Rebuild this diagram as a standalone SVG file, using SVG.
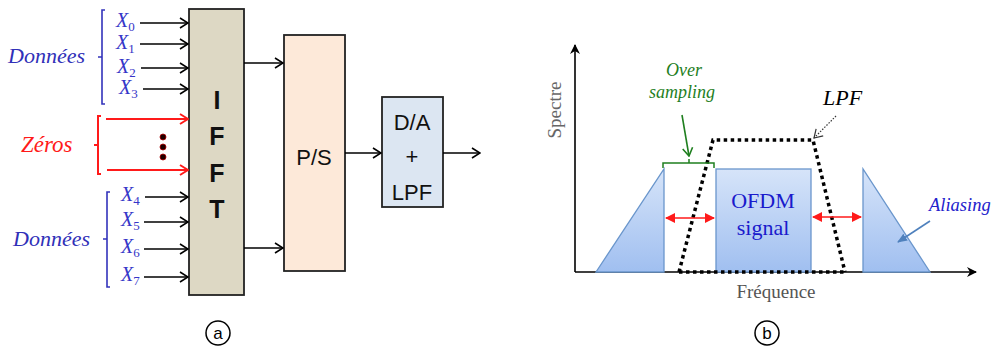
<svg xmlns="http://www.w3.org/2000/svg" width="995" height="349" viewBox="0 0 995 349">
<defs>
<style>
.blk{stroke:#000;stroke-width:1.6;fill:none}
.red{stroke:#ff1a1a;stroke-width:2;fill:none}
.brB{stroke:#3333bb;stroke-width:1.6;fill:none}
.box{stroke:#222;stroke-width:1.8}
.xl{font-family:"Liberation Serif","DejaVu Serif",serif;font-style:italic;font-size:20px;fill:#3535c8}
.xs{font-size:13px;font-style:normal}
.don{font-family:"Liberation Serif","DejaVu Serif",serif;font-style:italic;font-size:22px;fill:#3030b8}
.sans{font-family:"Liberation Sans","Arial",sans-serif;font-size:22px;fill:#111;text-anchor:middle}
.big{font-family:"Liberation Sans","Arial",sans-serif;font-weight:bold;font-size:25px;fill:#111;text-anchor:middle}
.serif{font-family:"Liberation Serif","DejaVu Serif",serif}
.dot{stroke:#000;stroke-width:3.5;stroke-dasharray:3.5 3.5;fill:none}
.shape{stroke:#6a96cc;stroke-width:1.3;fill:url(#gb)}
</style>
<linearGradient id="gb" x1="0" y1="0" x2="0" y2="1">
<stop offset="0" stop-color="#d6e4f9"/>
<stop offset="1" stop-color="#a0bff0"/>
</linearGradient>
<marker id="ak" viewBox="0 0 10 12" refX="9" refY="6" markerWidth="10" markerHeight="12" markerUnits="userSpaceOnUse" orient="auto">
<path d="M1,1 L9,6 L1,11" fill="none" stroke="#000" stroke-width="1.6"/>
</marker>
<marker id="ar" viewBox="0 0 10 12" refX="9" refY="6" markerWidth="10" markerHeight="12" markerUnits="userSpaceOnUse" orient="auto">
<path d="M1,1 L9,6 L1,11" fill="none" stroke="#ff1a1a" stroke-width="2"/>
</marker>
<marker id="ard" viewBox="0 0 10 10" refX="9" refY="5" markerWidth="10" markerHeight="10" markerUnits="userSpaceOnUse" orient="auto-start-reverse">
<path d="M0,0 L10,5 L0,10 Z" fill="#ff1a1a"/>
</marker>
<marker id="ag" viewBox="0 0 10 12" refX="9" refY="6" markerWidth="10" markerHeight="12" markerUnits="userSpaceOnUse" orient="auto">
<path d="M1,1 L9,6 L1,11" fill="none" stroke="#1f7f1f" stroke-width="1.6"/>
</marker>
<marker id="aax" viewBox="0 0 10 10" refX="9" refY="5" markerWidth="10" markerHeight="10" markerUnits="userSpaceOnUse" orient="auto">
<path d="M0,0 L10,5 L0,10 L3,5 Z" fill="#000"/>
</marker>
<marker id="abl" viewBox="0 0 10 10" refX="9" refY="5" markerWidth="10" markerHeight="10" markerUnits="userSpaceOnUse" orient="auto">
<path d="M0,1 L10,5 L0,9 Z" fill="#4f81bd"/>
</marker>
<marker id="alp" viewBox="0 0 10 12" refX="9" refY="6" markerWidth="10" markerHeight="12" markerUnits="userSpaceOnUse" orient="auto">
<path d="M1,1 L9,6 L1,11" fill="none" stroke="#333" stroke-width="1.2"/>
</marker>
</defs>
<rect width="995" height="349" fill="#fff"/>

<!-- Part a -->
<g id="donnees-top">
<path class="brB" d="M105,10 H102 V104 H105 M102,57 H98"/>
<text class="don" x="8" y="63">Données</text>
</g>
<g id="x-labels">
<text class="xl" x="116" y="27">X<tspan class="xs" dy="4">0</tspan></text>
<text class="xl" x="116" y="49">X<tspan class="xs" dy="4">1</tspan></text>
<text class="xl" x="117" y="73">X<tspan class="xs" dy="4">2</tspan></text>
<text class="xl" x="119" y="94">X<tspan class="xs" dy="4">3</tspan></text>
<text class="xl" x="121" y="201">X<tspan class="xs" dy="4">4</tspan></text>
<text class="xl" x="121" y="226">X<tspan class="xs" dy="4">5</tspan></text>
<text class="xl" x="121" y="253">X<tspan class="xs" dy="4">6</tspan></text>
<text class="xl" x="121" y="281">X<tspan class="xs" dy="4">7</tspan></text>
</g>
<g id="zeros">
<path class="red" d="M101,116 H98 V174 H101 M98,145 H94"/>
<text x="21" y="152" font-family="Liberation Serif,serif" font-style="italic" font-size="23" fill="#ff1a1a">Zéros</text>
<g fill="#200000" stroke="#b00000" stroke-width="0.8">
<circle cx="163" cy="137" r="3"/>
<circle cx="163" cy="147" r="3"/>
<circle cx="163" cy="157" r="3"/>
</g>
</g>
<g id="donnees-bottom">
<path class="brB" d="M110,192 H107 V287 H110 M107,239 H103"/>
<text class="don" x="13" y="246">Données</text>
</g>
<g id="ifft">
<rect class="box" x="189" y="9" width="55" height="286" fill="#ddd8c4"/>
<text class="big" x="217" y="109">I</text>
<text class="big" x="217" y="145">F</text>
<text class="big" x="217" y="182">F</text>
<text class="big" x="217" y="218">T</text>
</g>
<g id="ps">
<rect class="box" x="284" y="35" width="61" height="236" fill="#fde9d9"/>
<text class="sans" x="314" y="165">P/S</text>
</g>
<g id="da">
<rect class="box" x="382" y="97" width="61" height="110" fill="#dce6f2"/>
<text class="sans" x="412" y="130">D/A</text>
<text class="sans" x="412" y="164">+</text>
<text class="sans" x="412" y="200">LPF</text>
</g>
<g id="label-a">
<circle cx="218" cy="333" r="12" fill="none" stroke="#000" stroke-width="1.5"/>
<text x="218" y="339" font-family="Liberation Sans,sans-serif" font-size="17" text-anchor="middle" fill="#000">a</text>
</g>

<g id="connectors">
<line class="blk" x1="140" y1="23" x2="188" y2="23" marker-end="url(#ak)"/>
<line class="blk" x1="140" y1="44" x2="188" y2="44" marker-end="url(#ak)"/>
<line class="blk" x1="141" y1="68" x2="188" y2="68" marker-end="url(#ak)"/>
<line class="blk" x1="143" y1="89" x2="188" y2="89" marker-end="url(#ak)"/>
<line class="red" x1="106" y1="119" x2="188" y2="119" marker-end="url(#ar)"/>
<line class="red" x1="107" y1="170" x2="188" y2="170" marker-end="url(#ar)"/>
<line class="blk" x1="145" y1="197" x2="188" y2="197" marker-end="url(#ak)"/>
<line class="blk" x1="144" y1="222" x2="188" y2="222" marker-end="url(#ak)"/>
<line class="blk" x1="144" y1="249" x2="188" y2="249" marker-end="url(#ak)"/>
<line class="blk" x1="144" y1="277" x2="188" y2="277" marker-end="url(#ak)"/>
<line class="blk" x1="244" y1="63" x2="283" y2="63" marker-end="url(#ak)"/>
<line class="blk" x1="244" y1="248" x2="283" y2="248" marker-end="url(#ak)"/>
<line class="blk" x1="345" y1="153" x2="381" y2="153" marker-end="url(#ak)"/>
<line class="blk" x1="443" y1="153" x2="480" y2="153" marker-end="url(#ak)"/>
</g>

<!-- Part b -->
<g id="axes">
<line x1="575" y1="272" x2="575" y2="45" stroke="#000" stroke-width="1.6" marker-end="url(#aax)"/>
<line x1="575" y1="272" x2="976" y2="272" stroke="#000" stroke-width="1.6" marker-end="url(#aax)"/>
<text class="serif" x="0" y="0" transform="translate(561,110) rotate(-90)" font-size="19" fill="#666" text-anchor="middle">Spectre</text>
<text class="serif" x="776" y="298" font-size="19" fill="#555" text-anchor="middle">Fréquence</text>
</g>
<g id="left-alias">
<polygon class="shape" points="596,272 664,169 664,272"/>
</g>
<g id="ofdm">
<rect class="shape" x="716" y="169" width="95" height="103"/>
<text class="serif" x="763" y="208" font-size="22" fill="#1a1acc" text-anchor="middle">OFDM</text>
<text class="serif" x="763" y="235" font-size="22" fill="#1a1acc" text-anchor="middle">signal</text>
</g>
<g id="right-alias">
<polygon class="shape" points="863,169 863,272 930,272"/>
</g>
<g id="lpf-curve">
<polyline class="dot" points="679,272 713,140 813,140 845,272"/>
<line class="dot" x1="679" y1="272" x2="845" y2="272"/>
<text class="serif" x="823" y="105" font-size="22" font-style="italic" fill="#000">LPF</text>
</g>
<g id="oversampling">
<path d="M663,168 V163 H714 V168 M689,163 V159" stroke="#1f7f1f" stroke-width="1.5" fill="none"/>
<text class="serif" x="684" y="76" font-size="18" font-style="italic" fill="#1f7f1f" text-anchor="middle">Over</text>
<text class="serif" x="682" y="98" font-size="18" font-style="italic" fill="#1f7f1f" text-anchor="middle">sampling</text>
</g>
<g id="aliasing">
<text class="serif" x="929" y="211" font-size="18.5" font-style="italic" fill="#2222cc">Aliasing</text>
</g>
<g id="label-b">
<circle cx="767" cy="333" r="12" fill="none" stroke="#000" stroke-width="1.5"/>
<text x="767" y="339" font-family="Liberation Sans,sans-serif" font-size="17" text-anchor="middle" fill="#000">b</text>
</g>
<g id="connectors-b">
<line x1="666" y1="218" x2="714" y2="218" stroke="#ff1a1a" stroke-width="1.6" marker-start="url(#ard)" marker-end="url(#ard)"/>
<line x1="813" y1="217" x2="861" y2="217" stroke="#ff1a1a" stroke-width="1.6" marker-start="url(#ard)" marker-end="url(#ard)"/>
<line x1="682" y1="115" x2="689" y2="156" stroke="#1f7f1f" stroke-width="1.6" marker-end="url(#ag)"/>
<line x1="836" y1="116" x2="814" y2="138" stroke="#333" stroke-width="1.2" stroke-dasharray="1.5 1.5" marker-end="url(#alp)"/>
<line x1="930" y1="221" x2="898" y2="242" stroke="#4f81bd" stroke-width="1.6" marker-end="url(#abl)"/>
</g>
</svg>
